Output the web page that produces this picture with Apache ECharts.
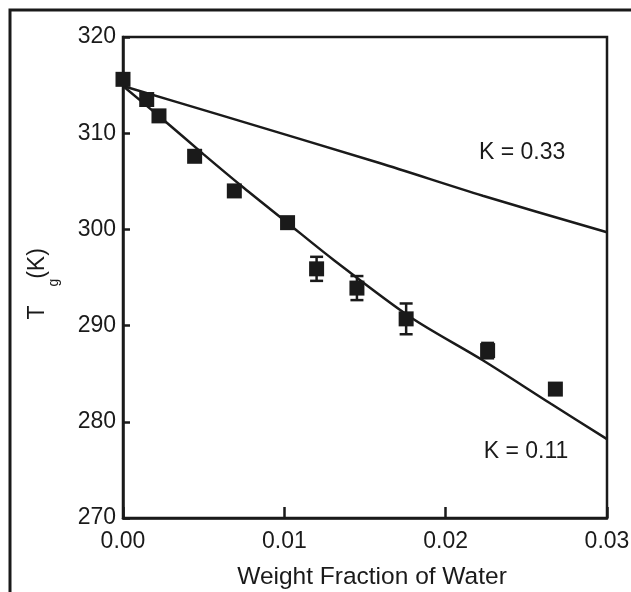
<!DOCTYPE html>
<html>
<head>
<meta charset="utf-8">
<script src="https://cdn.jsdelivr.net/npm/echarts@6/dist/echarts.min.js"></script>
<style>
html,body{margin:0;padding:0;background:#fff;}
#chart{width:631px;height:592px;}
</style>
</head>
<body>
<div id="chart"></div>
<script>
// Measured data (weight fraction of water, Tg in K, error in K)
const waterFraction = [0.0000, 0.00147, 0.00223, 0.00444, 0.0069, 0.0102, 0.0120, 0.0145, 0.01755, 0.0226, 0.0268];
const tgMeasured    = [315.6, 313.5, 311.8, 307.6, 304.0, 300.7, 295.9, 293.9, 290.7, 287.4, 283.4];
const tgError       = [0, 0, 0, 0, 0, 0, 1.25, 1.25, 1.6, 0.8, 0];

// Fitted curves
const fitK033X = [0.0000, 0.0060, 0.0159, 0.0223, 0.0300];
const fitK033Y = [314.9, 311.9, 306.9, 303.5, 299.7];
const fitK011X = [0.0000, 0.0025, 0.0050, 0.0075, 0.0101, 0.0130, 0.0178, 0.0223, 0.0265, 0.0300];
const fitK011Y = [314.9, 311.4, 307.8, 304.3, 300.8, 296.9, 290.9, 286.4, 281.9, 278.2];

const xTicks = [0, 0.01, 0.02, 0.03];
const yTicks = [270, 280, 290, 300, 310, 320];

const curveLabels = ['K = 0.33', 'K = 0.11'];
const curveLabelAt = [[0.02474, 308.0], [0.02498, 276.9]];

const yTitleParts = ['T', 'g', '(K)'];
const xTitle = 'Weight Fraction of Water';

const ink = '#1a1a1a';
const font = 'Liberation Sans, Arial, Helvetica, sans-serif';

const pts = waterFraction.map((x, i) => [x, tgMeasured[i], tgError[i]]);
const zip = (xs, ys) => xs.map((x, i) => [x, ys[i]]);

function curveLabel(i) {
  return {
    symbol: 'circle', symbolSize: 0,
    data: [{coord: curveLabelAt[i], value: curveLabels[i]}],
    label: {show: true, position: 'inside', formatter: curveLabels[i], fontFamily: font, fontSize: 23, color: ink}
  };
}

function vText(text, x, y, size) {
  return {
    type: 'text', x: x, y: y, rotation: Math.PI / 2, silent: true, z: 10,
    style: {text: text, fontFamily: font, fontSize: size, fill: ink, align: 'center', verticalAlign: 'middle'}
  };
}

const chart = echarts.init(document.getElementById('chart'));
chart.setOption({
  animation: false,
  backgroundColor: '#fff',
  graphic: [
    {
      type: 'rect',
      shape: {x: 10, y: 10, width: 800, height: 800},
      style: {fill: 'none', stroke: ink, lineWidth: 3},
      silent: true, z: 0
    },
    vText(yTitleParts[0], 37.5, 312.5, 23),
    vText(yTitleParts[1], 54.5, 282.5, 14),
    vText(yTitleParts[2], 37.5, 263.5, 23)
  ],
  grid: {
    left: 123, right: 24, top: 37, bottom: 74,
    containLabel: false, outerBoundsMode: 'none',
    show: true, borderColor: ink, borderWidth: 2.5, backgroundColor: 'transparent'
  },
  xAxis: {
    type: 'value', min: 0, max: 0.03, interval: 0.01,
    name: xTitle, nameLocation: 'middle', nameGap: 47,
    nameTextStyle: {fontFamily: font, fontSize: 24.5, color: ink, padding: [0, 0, 0, 14]},
    axisLine: {show: true, lineStyle: {color: ink, width: 2.5}},
    axisTick: {show: true, inside: true, length: 11, lineStyle: {color: ink, width: 2.5}},
    axisLabel: {
      fontFamily: font, fontSize: 23, color: ink, margin: 12,
      showMinLabel: true, showMaxLabel: true,
      formatter: v => v.toFixed(2)
    },
    splitLine: {show: false}
  },
  yAxis: {
    type: 'value', min: 270, max: 320, interval: 10,
    axisLine: {show: true, lineStyle: {color: ink, width: 2.5}},
    axisTick: {show: true, inside: true, length: 7, lineStyle: {color: ink, width: 2.5}},
    axisLabel: {fontFamily: font, fontSize: 23, color: ink, margin: 7},
    splitLine: {show: false}
  },
  series: [
    {
      type: 'line', data: zip(fitK033X, fitK033Y), smooth: 0.3,
      showSymbol: false, lineStyle: {color: ink, width: 2.5}, z: 2,
      markPoint: curveLabel(0)
    },
    {
      type: 'line', data: zip(fitK011X, fitK011Y), smooth: 0.3,
      showSymbol: false, lineStyle: {color: ink, width: 2.5}, z: 2,
      markPoint: curveLabel(1)
    },
    {
      type: 'custom', data: pts, z: 3,
      renderItem: function (params, api) {
        const x = api.value(0), y = api.value(1), e = api.value(2);
        if (!e) return null;
        const top = api.coord([x, y + e]);
        const bot = api.coord([x, y - e]);
        const hw = 6.5;
        const st = {stroke: ink, lineWidth: 2.5};
        return {
          type: 'group',
          children: [
            {type: 'line', shape: {x1: top[0], y1: top[1], x2: bot[0], y2: bot[1]}, style: st},
            {type: 'line', shape: {x1: top[0] - hw, y1: top[1], x2: top[0] + hw, y2: top[1]}, style: st},
            {type: 'line', shape: {x1: bot[0] - hw, y1: bot[1], x2: bot[0] + hw, y2: bot[1]}, style: st}
          ]
        };
      }
    },
    {
      type: 'scatter', data: pts, symbol: 'rect', symbolSize: 15,
      itemStyle: {color: ink, opacity: 1}, z: 4, clip: false
    }
  ]
});
</script>
</body>
</html>
